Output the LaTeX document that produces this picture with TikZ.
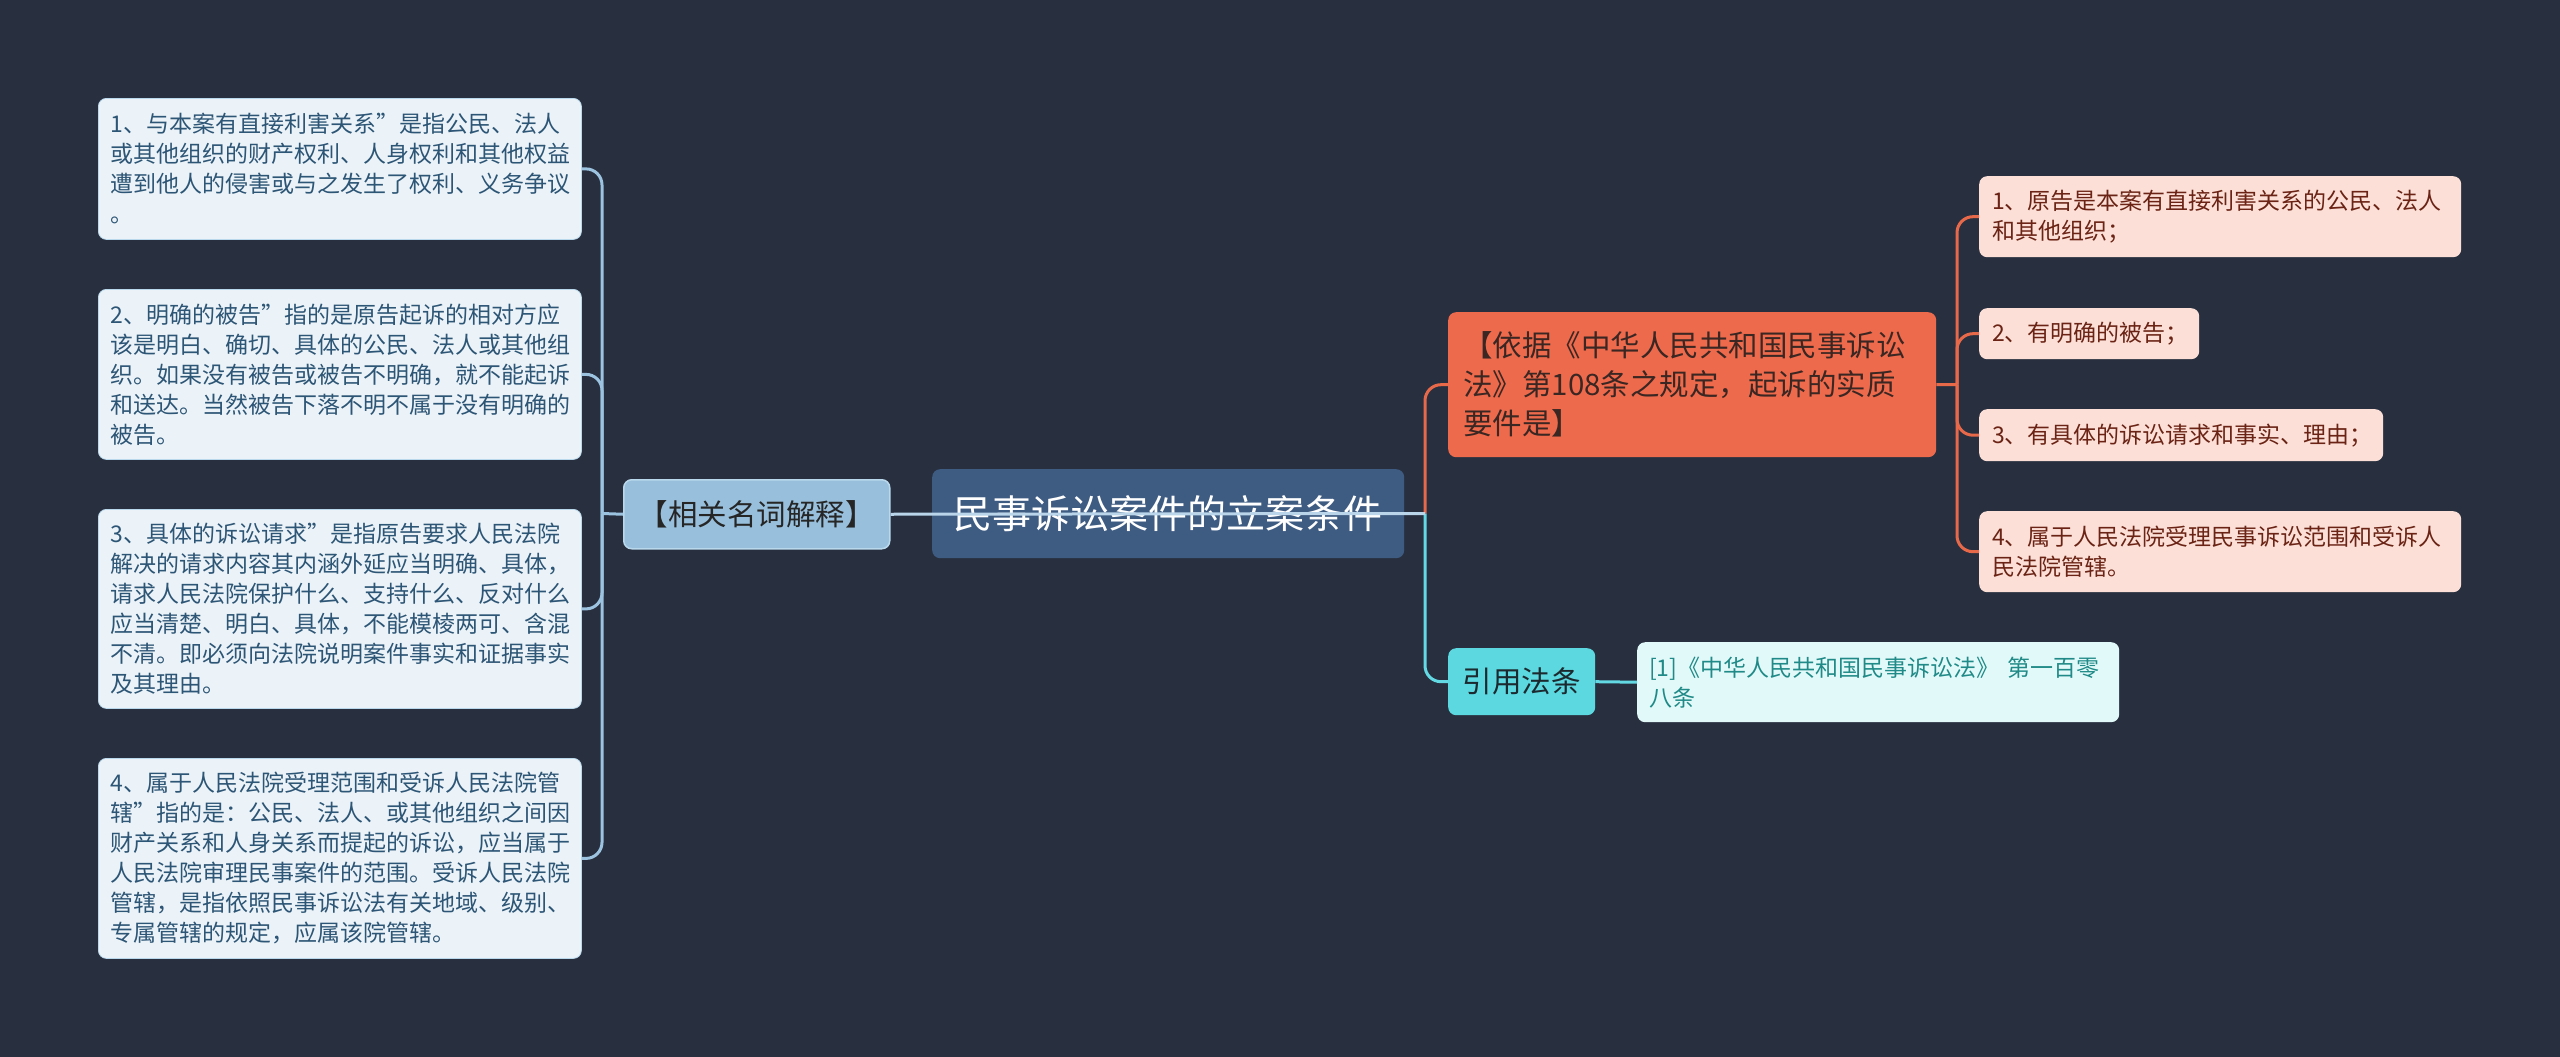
\documentclass[tikz,border=0pt]{standalone}
\usepackage{fontspec}
\newfontfamily\cjk{Noto Sans CJK SC}
\definecolor{bg}{HTML}{283040}
\definecolor{lfill}{HTML}{EBF3F8}
\definecolor{ltext}{HTML}{2D5575}
\definecolor{lline}{HTML}{9CC3E0}
\definecolor{relfill}{HTML}{98C0DD}
\definecolor{reldraw}{HTML}{B9D8EC}
\definecolor{cfill}{HTML}{3E5B82}
\definecolor{ofill}{HTML}{EE6A4C}
\definecolor{otext}{HTML}{3A2622}
\definecolor{oline}{HTML}{E8684A}
\definecolor{rfill}{HTML}{FCE0D8}
\definecolor{rtext}{HTML}{6A2314}
\definecolor{cyfill}{HTML}{5CD8E0}
\definecolor{cyline}{HTML}{62D9E3}
\definecolor{cytext}{HTML}{1C2A30}
\definecolor{chfill}{HTML}{E1F9F9}
\definecolor{chtext}{HTML}{1F8A87}
\tikzset{
  basebox/.style={rounded corners=8pt, anchor=north west, inner xsep=12pt, inner ysep=0pt, align=left},
  leafbox/.style={basebox, fill=lfill, draw=reldraw, line width=0.8pt, text=ltext, font=\cjk\fontsize{23}{30}\selectfont},
  relbox/.style={basebox, fill=relfill, draw=reldraw, line width=1.5pt, text=black!85, align=center, font=\cjk\fontsize{29.5}{39}\selectfont},
  rootbox/.style={basebox, fill=cfill, text=white, align=center, font=\cjk\fontsize{39}{48}\selectfont},
  obox/.style={basebox, inner xsep=15pt, fill=ofill, text=otext, font=\cjk\fontsize{29.5}{39}\selectfont},
  rbox/.style={basebox, inner xsep=13pt, fill=rfill, text=rtext, font=\cjk\fontsize{23}{30}\selectfont},
  cybox/.style={basebox, fill=cyfill, text=cytext, align=center, font=\cjk\fontsize{29.5}{39}\selectfont},
  chbox/.style={basebox, fill=chfill, text=chtext, font=\cjk\fontsize{23}{30}\selectfont},
  conn/.style={line width=3pt, rounded corners=16pt},
}
\begin{document}
\begin{tikzpicture}[x=1pt,y=-1pt]
\useasboundingbox (0,0) rectangle (2560,1057);
\fill[bg] (0,0) rectangle (2560,1057);

% left leaves
\node[leafbox, minimum width=483pt, minimum height=141pt, text width=459pt] (l1) at (98,98)
 {1、与本案有直接利害关系”是指公民、法人\\或其他组织的财产权利、人身权利和其他权益\\遭到他人的侵害或与之发生了权利、义务争议\\。};
\node[leafbox, minimum width=483pt, minimum height=170pt, text width=459pt] (l2) at (98,289)
 {2、明确的被告”指的是原告起诉的相对方应\\该是明白、确切、具体的公民、法人或其他组\\织。如果没有被告或被告不明确，就不能起诉\\和送达。当然被告下落不明不属于没有明确的\\被告。};
\node[leafbox, minimum width=483pt, minimum height=199pt, text width=459pt] (l3) at (98,509)
 {3、具体的诉讼请求”是指原告要求人民法院\\解决的请求内容其内涵外延应当明确、具体，\\请求人民法院保护什么、支持什么、反对什么\\应当清楚、明白、具体，不能模棱两可、含混\\不清。即必须向法院说明案件事实和证据事实\\及其理由。};
\node[leafbox, minimum width=483pt, minimum height=200pt, text width=459pt] (l4) at (98,758)
 {4、属于人民法院受理范围和受诉人民法院管\\辖”指的是：公民、法人、或其他组织之间因\\财产关系和人身关系而提起的诉讼，应当属于\\人民法院审理民事案件的范围。受诉人民法院\\管辖，是指依照民事诉讼法有关地域、级别、\\专属管辖的规定，应属该院管辖。};

% related terms
\node[relbox, minimum width=266pt, minimum height=69pt] (rel) at (623,479) {【相关名词解释】};

% root
\node[rootbox, minimum width=472pt, minimum height=89pt] (root) at (932,469) {民事诉讼案件的立案条件};

% orange branch
\node[obox, minimum width=488pt, minimum height=145pt, text width=458pt] (yj) at (1448,312)
 {【依据《中华人民共和国民事诉讼\\法》第108条之规定，起诉的实质\\要件是】};
\node[rbox, minimum width=482pt, minimum height=81pt, text width=456pt] (r1) at (1979,176)
 {1、原告是本案有直接利害关系的公民、法人\\和其他组织；};
\node[rbox, minimum width=220pt, minimum height=51pt, text width=194pt] (r2) at (1979,308)
 {2、有明确的被告；};
\node[rbox, minimum width=404pt, minimum height=52pt, text width=378pt] (r3) at (1979,409)
 {3、有具体的诉讼请求和事实、理由；};
\node[rbox, minimum width=482pt, minimum height=81pt, text width=456pt] (r4) at (1979,511)
 {4、属于人民法院受理民事诉讼范围和受诉人\\民法院管辖。};

% cyan branch
\node[cybox, minimum width=147pt, minimum height=67pt] (yy) at (1448,648) {引用法条};
\node[chbox, minimum width=482pt, minimum height=80pt, text width=458pt] (ch) at (1637,642)
 {[1]《中华人民共和国民事诉讼法》 第一百零\\八条};

% connectors left
\coordinate (lj) at (602,513.5);
\draw[conn, lline] (rel.west) -- (lj);
\foreach \n in {l1,l2,l3,l4} \draw[conn, lline] (lj) |- (\n.east);

% connectors right
\coordinate (rj) at (1425,513.5);
\draw[conn, oline] (rj) |- (yj.west);
\draw[conn, cyline] (rj) |- (yy.west);
\draw[line width=3pt, lline!70!white] (rel.east) -- (rj);

\coordinate (oj) at (1957,384.5);
\draw[conn, oline] (yj.east) -- (oj);
\foreach \n in {r1,r2,r3,r4} \draw[conn, oline] (oj) |- (\n.west);

\draw[conn, cyline] (yy.east) -- (ch.west);
\end{tikzpicture}
\end{document}
